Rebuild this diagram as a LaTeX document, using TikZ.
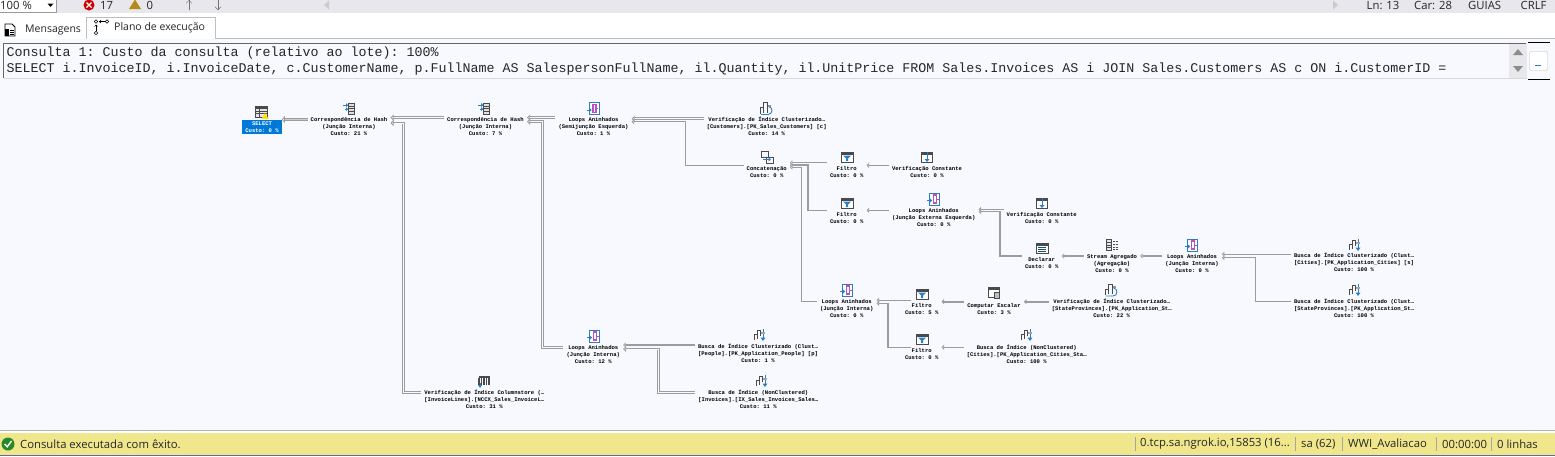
\documentclass[tikz,border=0pt]{standalone}
\usepackage{fontspec}
\setmainfont{Open Sans}
\setmonofont{Liberation Mono}
\usetikzlibrary{arrows.meta}
\definecolor{planbg}{HTML}{F7F9FF}
\definecolor{barbg}{HTML}{E7E7EC}
\definecolor{statusbg}{HTML}{F0E68C}
\definecolor{selblue}{HTML}{0078D7}
\definecolor{linkgray}{HTML}{9C9C9C}
\definecolor{icondark}{HTML}{4A4A4A}
\definecolor{iconblue}{HTML}{2A7FC4}
\definecolor{iconpink}{HTML}{C04FC0}
\definecolor{warnamber}{HTML}{B58A1B}
\tikzset{
  oplabel/.style={inner xsep=3pt,inner ysep=0pt,anchor=north,align=center,text=black,
    font={\ttfamily\bfseries\fontsize{5.55}{7}\selectfont}},
  uitext/.style={inner sep=0pt,anchor=west,text=black!85,font={\fontsize{11.3}{13}\selectfont}},
  tabtext/.style={uitext,font={\fontsize{10.5}{13}\selectfont}},
  sqltext/.style={inner sep=0pt,anchor=west,text=black!85,font={\ttfamily\fontsize{13.33}{15}\selectfont}},
  linkthin/.style={draw=linkgray,line width=1.3pt,-{Triangle[open,fill=planbg,length=2.5pt,width=5pt]}},
  linkmid/.style={draw=linkgray,line width=2pt,-{Triangle[fill=linkgray,length=2.5pt,width=5pt]}},
  linkdouble/.style={draw=linkgray,line width=.9pt,double=planbg,double distance=1pt,
    -{Triangle[open,fill=planbg,length=3pt,width=6pt]}},
  linkfat/.style={draw=linkgray,line width=.9pt,double=black!20,double distance=1.8pt,
    -{Triangle[open,fill=planbg,length=3pt,width=7pt]}},
  divider/.style={draw=black!35,line width=.7pt},
  pics/selecticon/.style={code={
    \draw[icondark,fill=black!10,line width=.9pt] (-6,-6) rectangle (6,5);
    \fill[icondark] (-6,-6) rectangle (6,-3.5);
    \foreach \yy in {-1,1.5} {\draw[icondark,line width=.6pt] (-6,\yy) -- (6,\yy);}
    \draw[icondark,line width=.6pt] (-2,-3.5) -- (-2,5);
    \fill[yellow!85!orange] (3.5,1) -- (7,7) -- (0,7) -- cycle;
  }},
  pics/hashicon/.style={code={
    \draw[icondark,fill=black!12,line width=.8pt] (-1,-5.5) rectangle (5,5.5);
    \foreach \yy in {-2.5,0,2.5} {\draw[icondark,line width=.6pt] (-1,\yy) -- (5,\yy);}
    \draw[iconblue,line width=.9pt] (-6.5,-3.5) -- (-1.5,-3.5) (-4,.5) -- (-1.5,.5);
    \fill[iconblue] (-1,-3.5) -- (-3,-5.5) -- (-3,-1.5) -- cycle (-1,.5) -- (-3,-1.5) -- (-3,2.5) -- cycle;
  }},
  pics/loopicon/.style={code={
    \draw[iconblue,fill=white,line width=.9pt] (-4.5,-6) rectangle (5.5,6);
    \draw[iconpink,line width=1.1pt] (-.5,-4) rectangle (2.5,4);
    \draw[iconpink,line width=.8pt] (2.5,0) -- (4.5,0);
    \draw[iconblue,line width=.9pt] (-7,1.5) -- (-2.5,1.5);
    \fill[iconblue] (-2,1.5) -- (-4,-.5) -- (-4,3.5) -- cycle;
  }},
  pics/scanicon/.style={code={
    \draw[icondark,line width=.8pt] (-6,5) -- (-6,-1) -- (-3,-1) -- (-3,-6) -- (1,-6) -- (1,4) (-3,-1) -- (-3,4);
    \draw[iconblue,line width=.9pt] (-5,6) -- (2,6) arc (90:-80:4 and 4);
    \fill[icondark!60] (2,-4) rectangle (5,-2);
  }},
  pics/consticon/.style={code={
    \draw[icondark,fill=white,line width=.9pt] (-5.5,-5) rectangle (5.5,5.5);
    \fill[icondark] (-5.5,-5) rectangle (5.5,-2.5);
    \draw[iconblue,line width=1pt] (0,-5) -- (0,3);
    \fill[iconblue] (0,5) -- (-2.5,2) -- (2.5,2) -- cycle;
  }},
  pics/filtericon/.style={code={
    \draw[icondark,fill=white,line width=.9pt] (-6,-5) rectangle (6,5);
    \fill[icondark] (-6,-5) rectangle (6,-2.5);
    \fill[iconblue] (-4,-1.5) -- (4,-1.5) -- (1,1.5) -- (1,4) -- (-1,4) -- (-1,1.5) -- cycle;
  }},
  pics/concaticon/.style={code={
    \draw[icondark,line width=1pt] (-6,-6) rectangle (1,0);
    \draw[icondark,line width=1pt] (-1,.5) rectangle (6,6);
    \draw[iconblue,line width=1pt] (-4,2.5) -- (3,2.5);
    \fill[iconblue] (4,2.5) -- (1.5,.5) -- (1.5,4.5) -- cycle;
  }},
  pics/spoolicon/.style={code={
    \draw[icondark,fill=white,line width=.9pt] (-6,-5) rectangle (6,5);
    \fill[icondark] (-6,-5) rectangle (6,-2.5);
    \foreach \yy in {-.5,1.5,3.5} {\draw[iconblue!60!black,line width=.7pt] (-4,\yy) -- (4,\yy);}
  }},
  pics/streamicon/.style={code={
    \draw[icondark,fill=black!10,line width=.8pt] (-6,-5.5) rectangle (-1,5.5);
    \foreach \yy in {-2.5,0,2.5} {\draw[icondark,line width=.6pt] (-6,\yy) -- (-1,\yy);}
    \foreach \yy in {-4,-1,2,4.5} {\draw[icondark,line width=.9pt] (1,\yy) -- (3,\yy) (4,\yy) -- (6,\yy);}
  }},
  pics/computeicon/.style={code={
    \draw[icondark,fill=white,line width=.9pt] (-5.5,-5.5) rectangle (5,4);
    \fill[icondark] (-5.5,-5.5) rectangle (5,-3);
    \draw[icondark,fill=black!25,line width=.7pt] (.5,-.5) rectangle (5.5,5);
  }},
  pics/seekicon/.style={code={
    \draw[icondark,line width=.8pt] (-6,5) -- (-6,-1) -- (-3,-1) -- (-3,4) (-3,-1) -- (-3,-5) -- (0,-5) -- (0,1);
    \draw[iconblue,line width=1pt] (3,-6) -- (3,3);
    \fill[iconblue] (3,6) -- (.5,2.5) -- (5.5,2.5) -- cycle;
    \fill[icondark!50] (1,-3) rectangle (5,-1);
  }},
  pics/columnicon/.style={code={
    \fill[icondark] (-5.5,-5.5) rectangle (5.5,-3);
    \foreach \xx in {-5,-2.5,0,2.5,5} {\draw[icondark,line width=1.1pt] (\xx,-3) -- (\xx,3.5);}
    \draw[iconblue,line width=1pt] (-4,2) -- (-4,5);
    \fill[iconblue] (-4,7) -- (-6,4) -- (-2,4) -- cycle;
  }},
}
\begin{document}
\begin{tikzpicture}[x=1pt,y=-1pt]
  \useasboundingbox (0,0) rectangle (1555,456);
  % window frame
  \fill[white] (0,0) rectangle (1555,456);
  \fill[barbg] (0,0) rectangle (1555,13);
  \fill[planbg] (0,39) rectangle (1555,430);
  \draw[black!25] (216,38.5) -- (1555,38.5);
  \draw[black!30] (0,430) -- (1555,430);
  \fill[statusbg] (0,433) rectangle (1555,456);
  \draw[blue!40!black!60] (0,455.6) -- (1555,455.6);
  % toolbar
  \draw[black!40,fill=white] (-1,-1) rectangle (56,12.5);
  \node[uitext] (zoomval) at (0,5) {100 \%};
  \fill[black] (47.5,3.5) -- (53.5,3.5) -- (50.5,7) -- cycle;
  \fill[red!80!black] (89,5) circle (5.5);
  \draw[white,line width=1.2pt] (86.5,2.5) -- (91.5,7.5) (86.5,7.5) -- (91.5,2.5);
  \node[uitext] (errcount) at (100,5) {17};
  \fill[warnamber] (135,-.5) -- (141,9) -- (129,9) -- cycle;
  \node[uitext] (warncount) at (146.5,5) {0};
  \draw[black!55,-{Straight Barb[length=3pt,width=6pt]}] (189,10) -- (189,0);
  \draw[black!55,-{Straight Barb[length=3pt,width=6pt]}] (218,0) -- (218,10);
  \fill[black!20] (329,.5) -- (324,5) -- (329,9.5) -- cycle;
  \fill[black!20] (1333,.5) -- (1338,5) -- (1333,9.5) -- cycle;
  \node[uitext] (linepos) at (1366.5,5) {Ln: 13};
  \node[uitext] (charpos) at (1414,5) {Car: 28};
  \node[uitext] (tabmode) at (1468,5) {GUIAS};
  \node[uitext] (eolmode) at (1520.5,5) {CRLF};
  % tabs
  \draw[black!25,fill=white] (86.5,38.5) -- (86.5,17.5) -- (215.5,17.5) -- (215.5,38.5);
  \node[tabtext] (msgtab) at (25,30) {Mensagens};
  \node[tabtext] (plantab) at (114,28) {Plano de execução};
  \draw[black,fill=white,line width=.9pt] (5,24) -- (12,24) -- (15,27) -- (15,36) -- (5,36) -- cycle;
  \fill[black] (5,29) rectangle (9,36);
  \foreach \yy in {30,32,34} {\draw[black,line width=.6pt] (10,\yy) -- (14,\yy);}
  \draw[black,line width=.6pt] (96,21.5) circle (1.7) (107,21.5) circle (1.7) (96,33) circle (1.7);
  \draw[black,line width=.6pt,-{Straight Barb[length=1.5pt,width=3pt]}] (104.5,21.5) -- (99,21.5);
  \draw[black,line width=.6pt,-{Straight Barb[length=1.5pt,width=3pt]}] (96,30.5) -- (96,24.5);
  % query text
  \draw[black!60,line width=1pt] (3.5,78) -- (3.5,43) -- (1526,43);
  \draw[black!15] (3.5,78.5) -- (1527,78.5);
  \fill[barbg] (1509,43.5) rectangle (1527,78);
  \fill[black!45] (1518,49) -- (1523,55) -- (1513,55) -- cycle;
  \fill[black!45] (1518,72) -- (1523,66) -- (1513,66) -- cycle;
  \draw[black] (1528,42.5) -- (1549.5,42.5) (1528,79) -- (1549.5,79);
  \draw[black!25,fill=white,rounded corners=2pt] (1529.5,51.5) rectangle (1547.5,70.5);
  \fill[iconblue] (1535,65) rectangle (1541,65.7);
  \node[sqltext] (sqlhead) at (6.5,53) {Consulta 1: Custo da consulta (relativo ao lote): 100\%};
  \node[sqltext] (sqlbody) at (6.5,69) {SELECT i.InvoiceID, i.InvoiceDate, c.CustomerName, p.FullName AS SalespersonFullName, il.Quantity, il.UnitPrice FROM Sales.Invoices AS i JOIN Sales.Customers AS c ON i.CustomerID =};
  % status bar
  \fill[green!45!black!85] (8,444) circle (6.5);
  \draw[white,line width=1.4pt] (4.7,444) -- (7.2,446.8) -- (11.5,441);
  \node[uitext] (runstate) at (20,444) {Consulta executada com êxito.};
  \foreach \xx in {1135,1295.7,1342.7,1436.7,1491.7} {\draw[divider] (\xx,437) -- (\xx,451);}
  \node[uitext] (hostname) at (1140,444) {0.tcp.sa.ngrok.io,15853 (16...};
  \node[uitext] (username) at (1301,444) {sa (62)};
  \node[uitext] (dbname) at (1348,444) {WWI\_Avaliacao};
  \node[uitext] (elapsed) at (1442,444) {00:00:00};
  \node[uitext] (rowcount) at (1497,444) {0 linhas};
  % plan operators
  \node[oplabel,fill=selblue,text=white] (selectop) at (262,119.5) {\rule{0pt}{5.5pt}SELECT\\Custo: 0 \%\rule[-2pt]{0pt}{2pt}};
  \node[oplabel] (hashA) at (349,115.5) {\rule{0pt}{5.5pt}Correspondência de Hash\\(Junção Interna)\\Custo: 21 \%};
  \node[oplabel] (hashB) at (485.5,115.5) {\rule{0pt}{5.5pt}Correspondência de Hash\\(Junção Interna)\\Custo: 7 \%};
  \node[oplabel] (loopA) at (593.5,115.3) {\rule{0pt}{5.5pt}Loops Aninhados\\(Semijunção Esquerda)\\Custo: 1 \%};
  \node[oplabel] (scanCust) at (766.7,115.3) {\rule{0pt}{5.5pt}Verificação de Índice Clusterizado…\\{[Customers].[PK\_Sales\_Customers] [c]}\\Custo: 14 \%};
  \node[oplabel] (concat) at (766.7,164.7) {\rule{0pt}{5.5pt}Concatenação\\Custo: 0 \%};
  \node[oplabel] (filterA) at (846.7,164.7) {\rule{0pt}{5.5pt}Filtro\\Custo: 0 \%};
  \node[oplabel] (constA) at (927,164.7) {\rule{0pt}{5.5pt}Verificação Constante\\Custo: 0 \%};
  \node[oplabel] (filterB) at (846.7,210.3) {\rule{0pt}{5.5pt}Filtro\\Custo: 0 \%};
  \node[oplabel] (loopB) at (933.7,206.3) {\rule{0pt}{5.5pt}Loops Aninhados\\(Junção Externa Esquerda)\\Custo: 0 \%};
  \node[oplabel] (constB) at (1041.7,210.7) {\rule{0pt}{5.5pt}Verificação Constante\\Custo: 0 \%};
  \node[oplabel] (spool) at (1041.7,255.3) {\rule{0pt}{5.5pt}Declarar\\Custo: 0 \%};
  \node[oplabel] (stream) at (1112,252.3) {\rule{0pt}{5.5pt}Stream Agregado\\(Agregação)\\Custo: 0 \%};
  \node[oplabel] (loopC) at (1192,252.3) {\rule{0pt}{5.5pt}Loops Aninhados\\(Junção Interna)\\Custo: 0 \%};
  \node[oplabel] (seekA) at (1354,251.7) {\rule{0pt}{5.5pt}Busca de Índice Clusterizado (Clust…\\{[Cities].[PK\_Application\_Cities] [s]}\\Custo: 100 \%};
  \node[oplabel] (seekB) at (1354,297.3) {\rule{0pt}{5.5pt}Busca de Índice Clusterizado (Clust…\\{[StateProvinces].[PK\_Application\_St…}\\Custo: 100 \%};
  \node[oplabel] (loopD) at (846.7,297.3) {\rule{0pt}{5.5pt}Loops Aninhados\\(Junção Interna)\\Custo: 0 \%};
  \node[oplabel] (filterC) at (921.7,301.3) {\rule{0pt}{5.5pt}Filtro\\Custo: 5 \%};
  \node[oplabel] (compute) at (994,301.3) {\rule{0pt}{5.5pt}Computar Escalar\\Custo: 3 \%};
  \node[oplabel] (scanSP) at (1111.7,297.7) {\rule{0pt}{5.5pt}Verificação de Índice Clusterizado…\\{[StateProvinces].[PK\_Application\_St…}\\Custo: 22 \%};
  \node[oplabel] (filterD) at (921.7,346.3) {\rule{0pt}{5.5pt}Filtro\\Custo: 0 \%};
  \node[oplabel] (seekNC) at (1026.7,343.3) {\rule{0pt}{5.5pt}Busca de Índice (NonClustered)\\{[Cities].[PK\_Application\_Cities\_Sta…}\\Custo: 100 \%};
  \node[oplabel] (loopE) at (593.3,343.7) {\rule{0pt}{5.5pt}Loops Aninhados\\(Junção Interna)\\Custo: 12 \%};
  \node[oplabel] (seekP) at (758,342.7) {\rule{0pt}{5.5pt}Busca de Índice Clusterizado (Clust…\\{[People].[PK\_Application\_People] [p]}\\Custo: 1 \%};
  \node[oplabel] (seekI) at (758.3,388.3) {\rule{0pt}{5.5pt}Busca de Índice (NonClustered)\\{[Invoices].[IX\_Sales\_Invoices\_Sales…}\\Custo: 11 \%};
  \node[oplabel] (scanCol) at (484.3,388.3) {\rule{0pt}{5.5pt}Verificação de Índice Columnstore (…\\{[InvoiceLines].[NCCX\_Sales\_InvoiceL…}\\Custo: 31 \%};
  % icons
  \pic at (261.5,112) {selecticon};
  \pic at (349,108.5) {hashicon};
  \pic at (484,108.5) {hashicon};
  \pic at (593.5,108.5) {loopicon};
  \pic at (766,108.5) {scanicon};
  \pic at (767,157) {concaticon};
  \pic at (847,157) {filtericon};
  \pic at (927,157) {consticon};
  \pic at (847,203) {filtericon};
  \pic at (934,199) {loopicon};
  \pic at (1042,203) {consticon};
  \pic at (1042,248) {spoolicon};
  \pic at (1112,245) {streamicon};
  \pic at (1192,245) {loopicon};
  \pic at (1355,245) {seekicon};
  \pic at (1355,290) {seekicon};
  \pic at (847,290) {loopicon};
  \pic at (922,294) {filtericon};
  \pic at (994,293) {computeicon};
  \pic at (1111,290) {scanicon};
  \pic at (922,339) {filtericon};
  \pic at (1027,335) {seekicon};
  \pic at (594,336) {loopicon};
  \pic at (760,335) {seekicon};
  \pic at (762,381) {seekicon};
  \pic at (484,381) {columnicon};
  % connectors
  \draw[linkfat] ([yshift=-4pt]hashA.north west) -- (selectop.north east);
  \draw[linkdouble] ([yshift=-2.2pt]hashB.north west) -- ([yshift=-2.2pt]hashA.north east);
  \draw[linkdouble] ([yshift=-4pt]scanCol.north west) -- ++(-17.5,0) |- ([yshift=-7.5pt]hashA.north east);
  \draw[linkdouble] ([yshift=-2.4pt]loopA.north west) -- ([yshift=-2.2pt]hashB.north east);
  \draw[linkdouble] ([yshift=-4pt]loopE.north west) -- ++(-21,0) |- ([yshift=-6.2pt]hashB.north east);
  \draw[linkdouble] ([yshift=-3.4pt]scanCust.north west) -- ([yshift=-3.4pt]loopA.north east);
  \draw[linkthin] ([yshift=-.6pt]concat.north west) -- ++(-58,0) |- ([yshift=-6.4pt]loopA.north east);
  \draw[linkthin] ([yshift=2pt]filterA.north west) -- ([yshift=2pt]concat.north east);
  \draw[linkthin] (filterB.north west) -- ++(-19,0) |- ([yshift=-.3pt]concat.north east);
  \draw[linkthin] ([yshift=-4pt]loopD.north west) -- ++(-15.5,0) |- ([yshift=-2.6pt]concat.north east);
  \draw[linkthin] ([yshift=-.6pt]constA.north west) -- ([yshift=-.6pt]filterA.north east);
  \draw[linkthin] ([yshift=-4pt]loopB.north west) -- (filterB.north east);
  \draw[linkthin] ([yshift=1.4pt]constB.north west) -- ([yshift=-3pt]loopB.north east);
  \draw[linkthin] ([yshift=-.7pt]spool.north west) -- ++(-22,0) |- ([yshift=-5.4pt]loopB.north east);
  \draw[linkthin] ([yshift=-3.7pt]stream.north west) -- ([yshift=-.7pt]spool.north east);
  \draw[linkthin] ([yshift=-3.7pt]loopC.north west) -- ([yshift=-3.7pt]stream.north east);
  \draw[linkthin] ([yshift=-2.6pt]seekA.north west) -- ([yshift=-2pt]loopC.north east);
  \draw[linkthin] ([yshift=-4pt]seekB.north west) -- ++(-35.3,0) |- ([yshift=-5.4pt]loopC.north east);
  \draw[linkthin] ([xshift=9.5pt,yshift=1pt]filterC.north west) -- ([yshift=-3pt]loopD.north east);
  \draw[linkthin] ([xshift=9.5pt,yshift=-1pt]filterD.north west) -- ++(-23.4,0) |- ([yshift=-6pt]loopD.north east);
  \draw[linkmid] ([yshift=-.4pt]compute.north west) -- ([yshift=-.4pt]filterC.north east);
  \draw[linkmid] ([yshift=-4pt]scanSP.north west) -- ([yshift=-.4pt]compute.north east);
  \draw[linkthin] ([yshift=-4pt]seekNC.north west) -- ([yshift=-1pt]filterD.north east);
  \draw[linkthin] ([yshift=-2.3pt]seekP.north west) -- ([yshift=-1.3pt]loopE.north east);
  \draw[linkdouble] ([yshift=-4pt]seekI.north west) -- ++(-37,0) |- ([yshift=-5.3pt]loopE.north east);
\end{tikzpicture}
\end{document}
